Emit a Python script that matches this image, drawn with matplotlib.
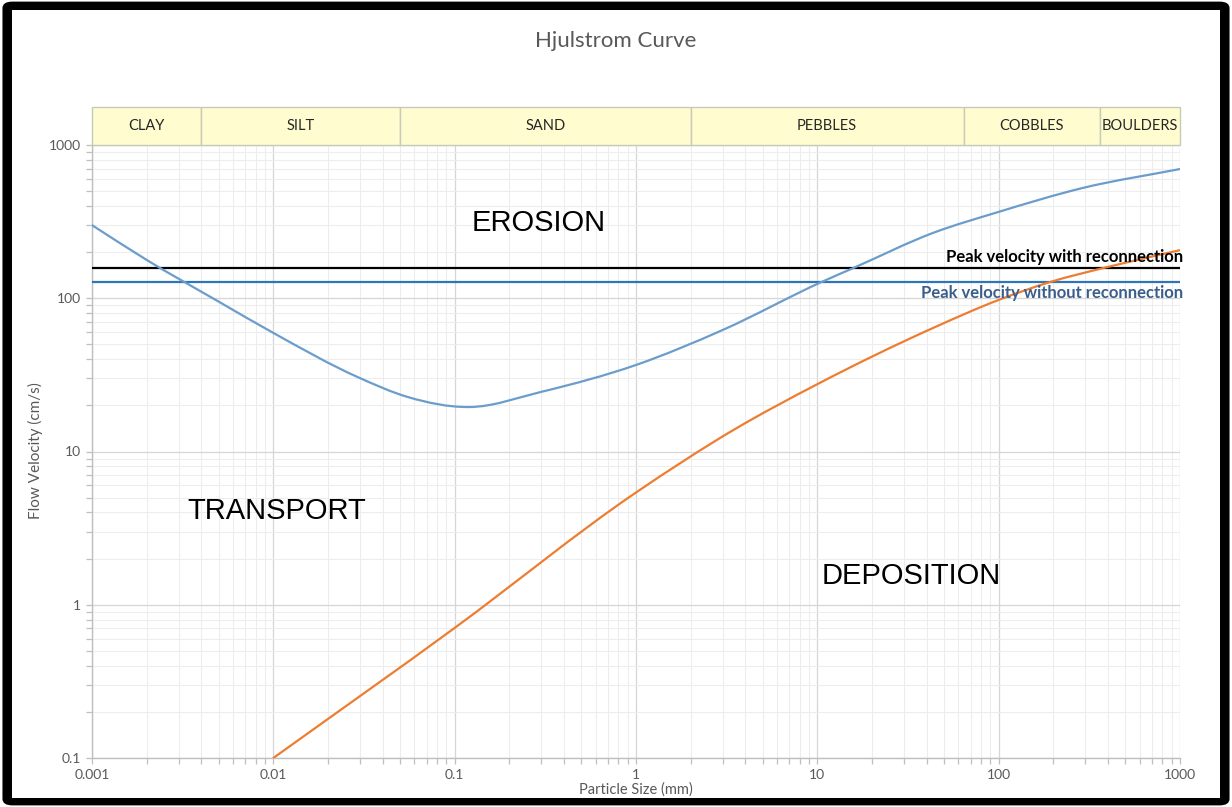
import numpy as np
import matplotlib
matplotlib.use("Agg")
import matplotlib.pyplot as plt
from matplotlib.path import Path
from matplotlib.patches import PathPatch, Rectangle, FancyBboxPatch
from matplotlib.transforms import blended_transform_factory
from matplotlib.ticker import LogLocator, FixedLocator, FixedFormatter, NullFormatter

# Particle size classes (upper/lower bounds in mm)
class_names = ["CLAY", "SILT", "SAND", "PEBBLES", "COBBLES", "BOULDERS"]
class_edges = [0.001, 0.004, 0.05, 2, 64, 360, 1000]

# Critical erosion velocity (cm/s) against particle size (mm)
erosion_size = [0.001, 0.002, 0.005, 0.01, 0.029, 0.055, 0.12, 0.3, 1.0, 3.0, 10.6, 15.9, 43.5, 100, 292, 1000]
erosion_velocity = [300, 178, 95, 59.4, 30.7, 22.7, 19.5, 24.5, 36.7, 62, 128, 158, 267, 366, 525, 697]

# Settling (deposition) velocity (cm/s) against particle size (mm)
deposition_size = [0.01, 0.1, 1.0, 3.44, 10, 43.5, 100, 194, 382, 1000]
deposition_velocity = [0.1, 0.706, 5.4, 13.8, 27.5, 64, 97.5, 128, 158, 206]

# Peak flow velocities (cm/s)
peak_with_reconnection = 158
peak_without_reconnection = 128

x_ticks = [0.001, 0.01, 0.1, 1, 10, 100, 1000]
x_tick_labels = ["0.001", "0.01", "0.1", "1", "10", "100", "1000"]
y_ticks = [0.1, 1, 10, 100, 1000]
y_tick_labels = ["0.1", "1", "10", "100", "1000"]

FONT = "Lato"
GREY_TEXT = "#595959"


def smooth_path(xs, ys):
    """Cubic Hermite (Bezier) path through the points, smooth in log-log space."""
    lx = np.log10(xs)
    ly = np.log10(ys)
    n = len(lx)
    h = np.diff(lx)
    sec = np.diff(ly) / h
    m = np.empty(n)
    m[0], m[-1] = sec[0], sec[-1]
    for i in range(1, n - 1):
        # slope weighted by neighbouring interval lengths
        m[i] = (sec[i - 1] * h[i] + sec[i] * h[i - 1]) / (h[i - 1] + h[i])
    verts = [(lx[0], ly[0])]
    codes = [Path.MOVETO]
    for i in range(n - 1):
        d = h[i] / 3.0
        verts += [(lx[i] + d, ly[i] + m[i] * d),
                  (lx[i + 1] - d, ly[i + 1] - m[i + 1] * d),
                  (lx[i + 1], ly[i + 1])]
        codes += [Path.CURVE4] * 3
    return Path(10.0 ** np.array(verts), codes)


fig = plt.figure(figsize=(12.32, 8.07), dpi=100, facecolor="white")

# Black picture frame
fig.patches.append(FancyBboxPatch((0.002, 0.002), 0.996, 0.996,
                                  boxstyle="round,pad=0,rounding_size=0.008",
                                  transform=fig.transFigure, facecolor="black",
                                  edgecolor="none", zorder=-10))
fig.patches.append(Rectangle((12 / 1232, 1 - 798 / 807), (1220 - 12) / 1232, (798 - 10) / 807,
                             transform=fig.transFigure, facecolor="white",
                             edgecolor="none", zorder=-9))

ax = fig.add_axes([92 / 1232, 1 - 758 / 807, (1180 - 92) / 1232, (758 - 145) / 807])
ax.set_xscale("log")
ax.set_yscale("log")
ax.set_xlim(0.001, 1000)
ax.set_ylim(0.1, 1000)
ax.set_facecolor("none")

# Grid
ax.xaxis.set_minor_locator(LogLocator(base=10, subs=np.arange(2, 10)))
ax.yaxis.set_minor_locator(LogLocator(base=10, subs=np.arange(2, 10)))
ax.xaxis.set_minor_formatter(NullFormatter())
ax.yaxis.set_minor_formatter(NullFormatter())
ax.xaxis.set_major_locator(FixedLocator(x_ticks))
ax.xaxis.set_major_formatter(FixedFormatter(x_tick_labels))
ax.yaxis.set_major_locator(FixedLocator(y_ticks))
ax.yaxis.set_major_formatter(FixedFormatter(y_tick_labels))
ax.grid(which="major", color="#D6D6D6", linewidth=0.9)
ax.grid(which="minor", color="#EDEDED", linewidth=0.8)
ax.set_axisbelow(True)

for side in ("top", "right"):
    ax.spines[side].set_visible(False)
for side in ("left", "bottom"):
    ax.spines[side].set_color("#BFBFBF")
    ax.spines[side].set_linewidth(1.0)

ax.tick_params(which="both", direction="out", color="#BFBFBF", length=4, width=0.9)
ax.tick_params(which="major", labelsize=10, labelcolor=GREY_TEXT, pad=4)
for lab in ax.get_xticklabels() + ax.get_yticklabels():
    lab.set_family(FONT)

# Peak velocity lines
ax.axhline(peak_with_reconnection, color="black", linewidth=1.6, zorder=3)
ax.axhline(peak_without_reconnection, color="#2E75B6", linewidth=1.6, zorder=3)

# Erosion and deposition curves
ax.add_patch(PathPatch(smooth_path(erosion_size, erosion_velocity), fill=False,
                       edgecolor="#6B9DCC", linewidth=1.6, zorder=4, capstyle="round"))
ax.add_patch(PathPatch(smooth_path(deposition_size, deposition_velocity), fill=False,
                       edgecolor="#ED7D31", linewidth=1.6, zorder=4, capstyle="round"))

# Peak velocity labels
ax.annotate("Peak velocity with reconnection", xy=(1000, peak_with_reconnection),
            xytext=(2, 4.3), textcoords="offset points", ha="right", va="baseline",
            family=FONT, fontweight="bold", fontsize=12, color="black", zorder=5)
ax.annotate("Peak velocity without reconnection", xy=(1000, peak_without_reconnection),
            xytext=(2, -12), textcoords="offset points", ha="right", va="baseline",
            family=FONT, fontweight="bold", fontsize=12, color="#3A5E8C", zorder=5)

# Region labels
region_kw = dict(family="Liberation Sans", fontsize=21, color="black",
                 ha="center", va="center", transform=ax.transAxes)
ax.text(0.411, 0.873, "EROSION", **region_kw)
ax.text(0.170, 0.403, "TRANSPORT", **region_kw)
ax.text(0.753, 0.297, "DEPOSITION", **region_kw)

# Particle class bands above the plot
band = blended_transform_factory(ax.transData, ax.transAxes)
band_h = 38 / 613
for name, lo, hi in zip(class_names, class_edges[:-1], class_edges[1:]):
    ax.add_patch(Rectangle((lo, 1.0), hi - lo, band_h, transform=band,
                           facecolor="#FFFDCF", edgecolor="#C9C9B8", linewidth=1.0,
                           clip_on=False, zorder=2))
    ax.text(np.sqrt(lo * hi), 1.0 + band_h / 2, name, transform=band,
            ha="center", va="center", family=FONT, fontsize=10.5, color="#262626",
            clip_on=False)

# Titles
fig.text(0.5, 1 - 41 / 807, "Hjulstrom Curve", ha="center", va="center",
         family=FONT, fontsize=16, color=GREY_TEXT)
fig.text(35 / 1232, 1 - 451 / 807, "Flow Velocity (cm/s)", rotation=90,
         ha="center", va="center", family=FONT, fontsize=11, color=GREY_TEXT)
fig.text(636 / 1232, 1 - 790 / 807, "Particle Size (mm)", ha="center", va="center",
         family=FONT, fontsize=10.5, color=GREY_TEXT)

fig.savefig("out.png", dpi=100, facecolor="white")
